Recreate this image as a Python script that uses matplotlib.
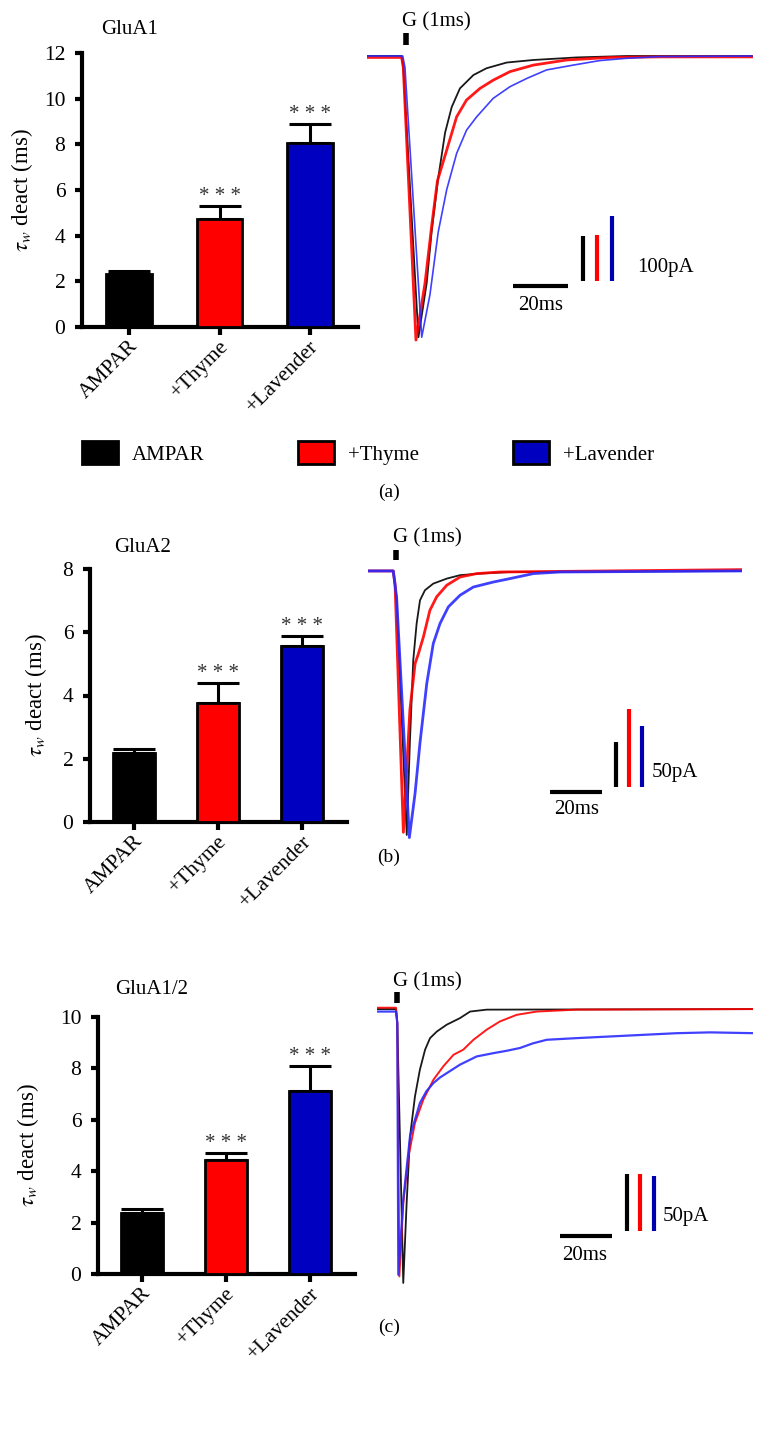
import numpy as np
import matplotlib
matplotlib.use('Agg')
import matplotlib.pyplot as plt
from matplotlib.patches import Patch
from matplotlib import transforms

plt.rcParams['font.family'] = ['Liberation Serif', 'DejaVu Serif']
plt.rcParams['mathtext.fontset'] = 'stix'

groups = ['AMPAR', '+Thyme', '+Lavender']
bar_colors = ['#000000', '#ff0000', '#0000c0']
trace_colors = ['#000000', '#ff0000', '#2b2bff']
scale_colors = ['#000000', '#ff0000', '#0000b0']

# tau_w deact (ms): mean and SEM per group
glua1_mean = [2.3, 4.75, 8.05]
glua1_sem = [0.15, 0.55, 0.85]
glua2_mean = [2.18, 3.77, 5.57]
glua2_sem = [0.14, 0.63, 0.32]
glua12_mean = [2.36, 4.44, 7.13]
glua12_sem = [0.16, 0.26, 0.95]

# representative currents, normalised to peak (time in ms)
a_black_t = [0, 12.6, 13.2, 18.7, 21.7, 23.5, 25.9, 28.4, 30.8, 33.8, 38.7, 43.5, 50.8, 60.5, 76.2, 94.4, 140]
a_black_i = [0, 0, -0.04, -0.99, -0.80, -0.62, -0.43, -0.27, -0.18, -0.114, -0.067, -0.043, -0.023, -0.014, -0.005, 0, 0]
a_red_t = [0, 12.6, 13.2, 17.8, 21.1, 23.5, 25.6, 29.0, 32.6, 36.2, 41.1, 45.9, 52.0, 60.5, 72.6, 88.4, 106.5, 140]
a_red_i = [-0.005, -0.005, -0.04, -1.0, -0.80, -0.60, -0.44, -0.331, -0.214, -0.155, -0.114, -0.085, -0.055, -0.032, -0.014, -0.005, -0.003, -0.003]
a_blue_t = [0, 13.0, 13.8, 19.9, 22.9, 25.9, 29.0, 32.6, 36.2, 39.9, 45.9, 52.0, 58.1, 65.3, 75.0, 84.7, 94.4, 106.5, 140]
a_blue_i = [0, 0, -0.04, -0.99, -0.84, -0.62, -0.47, -0.343, -0.261, -0.214, -0.149, -0.108, -0.079, -0.049, -0.032, -0.016, -0.008, -0.002, 0]

b_black_t = [0, 9.7, 11.0, 14.9, 16.1, 17.4, 18.7, 20.0, 21.9, 25.1, 30.3, 35.4, 43.1, 54.6, 144]
b_black_i = [0, 0, -0.1, -1.0, -0.65, -0.338, -0.199, -0.111, -0.073, -0.048, -0.029, -0.016, -0.010, -0.004, 0]
b_red_t = [0, 9.7, 10.4, 13.6, 16.1, 18.1, 19.4, 21.3, 23.8, 26.4, 30.3, 35.4, 41.8, 50.8, 144]
b_red_i = [0, 0, -0.05, -0.99, -0.527, -0.351, -0.313, -0.25, -0.149, -0.098, -0.054, -0.023, -0.010, -0.004, 0.005]
b_blue_t = [0, 9.7, 11.0, 15.9, 18.1, 20.0, 22.6, 25.1, 27.7, 30.9, 35.4, 40.5, 48.2, 54.6, 63.6, 73.8, 144]
b_blue_i = [0, 0, -0.1, -1.01, -0.842, -0.65, -0.426, -0.275, -0.199, -0.136, -0.092, -0.061, -0.042, -0.029, -0.010, -0.004, 0]

c_black_t = [0, 7.3, 7.8, 10.1, 11.4, 12.7, 14.6, 16.5, 18.5, 20.4, 23.0, 26.8, 31.9, 35.8, 42.2, 145]
c_black_i = [0, 0, -0.05, -1.0, -0.708, -0.465, -0.319, -0.221, -0.148, -0.106, -0.082, -0.057, -0.033, -0.009, -0.002, 0]
c_red_t = [0, 7.3, 7.8, 8.6, 10.1, 12.1, 14.6, 17.8, 21.7, 25.5, 29.4, 33.2, 37.1, 42.2, 47.3, 53.7, 61.4, 76.8, 145]
c_red_i = [0.005, 0.005, -0.05, -0.976, -0.708, -0.538, -0.416, -0.331, -0.258, -0.209, -0.167, -0.148, -0.112, -0.075, -0.045, -0.021, -0.009, -0.002, 0]
c_blue_t = [0, 7.3, 7.8, 8.2, 10.1, 12.7, 16.5, 19.0, 21.7, 24.2, 26.8, 31.9, 38.3, 44.7, 50.0, 55.0, 60.0, 65.3, 76.8, 89.6, 102.4, 115.3, 128.1, 145]
c_blue_i = [-0.009, -0.009, -0.05, -0.970, -0.696, -0.465, -0.343, -0.300, -0.270, -0.250, -0.234, -0.203, -0.173, -0.161, -0.152, -0.142, -0.125, -0.112, -0.106, -0.10, -0.094, -0.088, -0.085, -0.088]

# peak amplitude (pA) of each trace, sets the calibration bar heights
a_peak_pA = [630, 620, 440]
b_peak_pA = [293, 169, 216]
c_peak_pA = [240, 240, 249]

W, H = 775.0, 1436.0
fig = plt.figure(figsize=(7.75, 14.36), dpi=100)


def px_rect(left, top, right, bottom):
    return [left / W, 1 - bottom / H, (right - left) / W, (bottom - top) / H]


def bar_panel(rect, means, sems, ymax, ystep, title, title_px, ylab_x):
    ax = fig.add_axes(rect)
    x = np.arange(len(groups))
    ax.bar(x, means, width=0.5, color=bar_colors, edgecolor='black', linewidth=2, zorder=3)
    ax.errorbar(x, means, yerr=[np.zeros(len(means)), sems], fmt='none', ecolor='black',
                elinewidth=2.2, capsize=15, capthick=2.2, zorder=2)
    for i in range(1, len(groups)):
        ax.annotate('* * *', (x[i], means[i] + sems[i]), xytext=(0, 7), textcoords='offset points',
                    ha='center', va='center', fontsize=15, color='#333333')
    ax.set_xlim(-0.52, 2.53)
    ax.set_ylim(0, ymax)
    ax.set_yticks(np.arange(0, ymax + 0.01, ystep))
    for s in ['top', 'right']:
        ax.spines[s].set_visible(False)
    for s in ['left', 'bottom']:
        ax.spines[s].set_linewidth(3)
    ax.tick_params(axis='y', length=5, width=3, labelsize=15.5, pad=7)
    ax.tick_params(axis='x', length=6, width=3, labelsize=15.5, pad=6)
    ax.set_xticks(x)
    ax.set_xticklabels(groups, rotation=45, ha='right', va='center', rotation_mode='anchor')
    off = transforms.ScaledTranslation(6 / 100.0, 0, fig.dpi_scale_trans)
    for lab in ax.get_xticklabels():
        lab.set_transform(lab.get_transform() + off)
    ax.set_ylabel(r'$\tau_w$ deact (ms)', fontsize=16.5)
    ax.yaxis.set_label_coords(ylab_x, 0.5)
    fig.text(title_px[0] / W, 1 - title_px[1] / H, title, ha='center', va='center', fontsize=15)
    return ax


def trace_panel(rect, xmax, ylo, yhi, traces, widths, peaks, cal_pA, cal_txt, layout):
    ax = fig.add_axes(rect)
    ax.set_xlim(0, xmax)
    ax.set_ylim(ylo, yhi)
    ax.axis('off')
    for (t, i), c, lw in zip(traces, trace_colors, widths):
        ax.plot(t, i, color=c, lw=lw, alpha=0.9, solid_joinstyle='round')
    # stimulus marker and label
    sx, sy0, sy1, gx, gy = layout['stim']
    ax.plot([sx, sx], [sy0, sy1], color='black', lw=4, solid_capstyle='butt')
    ax.text(gx, gy, 'G (1ms)', ha='left', va='center', fontsize=15)
    # time calibration
    hx0, hy, hlx, hly = layout['tbar']
    ax.plot([hx0, hx0 + 20], [hy, hy], color='black', lw=3, solid_capstyle='butt')
    ax.text(hlx, hly, '20ms', ha='center', va='center', fontsize=15)
    # current calibration, one per trace
    vxs, vy0, tx, ty = layout['ibar']
    for vx, pk, c in zip(vxs, peaks, scale_colors):
        ax.plot([vx, vx], [vy0, vy0 + cal_pA / pk], color=c, lw=3, solid_capstyle='butt')
    ax.text(tx, ty, cal_txt, ha='left', va='center', fontsize=15)
    return ax


# ---- panel (a) ----
bar_panel(px_rect(82, 53, 358, 327), glua1_mean, glua1_sem, 12, 2, 'GluA1', (130, 30), -0.17)
trace_panel(px_rect(367, 10, 753, 350), 140.4, -1.035, 0.162,
            [(a_black_t, a_black_i), (a_red_t, a_red_i), (a_blue_t, a_blue_i)],
            [1.3, 2.0, 1.2], a_peak_pA, 100, '100pA',
            {'stim': (14.2, 0.039, 0.081, 12.7, 0.12),
             'tbar': (53.1, -0.81, 63.1, -0.877),
             'ibar': ([78.5, 83.6, 89.1], -0.792, 98.2, -0.743)})

handles = [Patch(facecolor=c, edgecolor='black', linewidth=2) for c in bar_colors]
fig.legend(handles, groups, loc='upper left', bbox_to_anchor=(82 / W, 1 - 441 / H), ncol=3,
           frameon=False, fontsize=15, handlelength=1.73, handleheight=1.35,
           handletextpad=0.67, columnspacing=4.5, borderpad=0, borderaxespad=0)
fig.text(389 / W, 1 - 492 / H, '(a)', ha='center', va='center', fontsize=14)

# ---- panel (b) ----
bar_panel(px_rect(90, 569, 347, 822), glua2_mean, glua2_sem, 8, 2, 'GluA2', (143, 547), -0.16)
trace_panel(px_rect(368, 525, 742, 850), 143.8, -1.057, 0.174,
            [(b_black_t, b_black_i), (b_red_t, b_red_i), (b_blue_t, b_blue_i)],
            [1.3, 2.0, 2.0], b_peak_pA, 50, '50pA',
            {'stim': (10.8, 0.042, 0.080, 9.6, 0.125),
             'tbar': (70.0, -0.837, 80.4, -0.905),
             'ibar': ([95.4, 100.4, 105.4], -0.818, 109.2, -0.765)})
fig.text(389 / W, 1 - 857 / H, '(b)', ha='center', va='center', fontsize=14)

# ---- panel (c) ----
bar_panel(px_rect(98, 1017, 355, 1274), glua12_mean, glua12_sem, 10, 2, 'GluA1/2', (152, 990), -0.222)
trace_panel(px_rect(377, 965, 753, 1295), 144.6, -1.044, 0.161,
            [(c_black_t, c_black_i), (c_red_t, c_red_i), (c_blue_t, c_blue_i)],
            [1.3, 1.4, 1.6], c_peak_pA, 50, '50pA',
            {'stim': (7.7, 0.022, 0.062, 6.2, 0.099),
             'tbar': (70.4, -0.828, 80.0, -0.898),
             'ibar': ([96.2, 101.2, 106.5], -0.810, 110.0, -0.759)})
fig.text(389 / W, 1 - 1327 / H, '(c)', ha='center', va='center', fontsize=14)

fig.savefig('out.png', dpi=100)
